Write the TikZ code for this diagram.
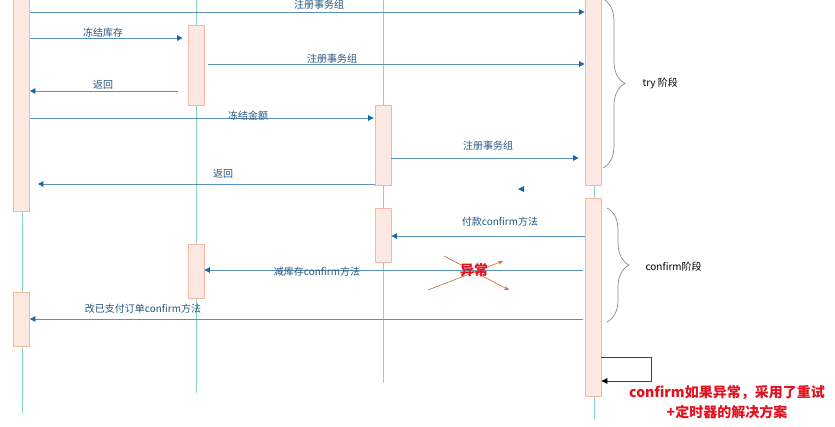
\documentclass[tikz,border=0pt]{standalone}
\usepackage{fontspec}
\setmainfont{Noto Sans CJK SC}
\usepackage{tikz}
\usetikzlibrary{arrows.meta,positioning,decorations.pathreplacing,calc}
\definecolor{lifeteal}{HTML}{86D5C9}
\definecolor{actfill}{HTML}{FDE8E2}
\definecolor{actdraw}{HTML}{F4B7A5}
\definecolor{msgline}{HTML}{5B90B9}
\definecolor{tiptone}{HTML}{1767A6}
\definecolor{msgtext}{HTML}{24557F}
\definecolor{alarm}{HTML}{E3101E}
\definecolor{crossline}{HTML}{C8692F}
\definecolor{bracegray}{HTML}{8C8C8C}

\begin{document}
\begin{tikzpicture}[x=1pt, y=-1pt, font=\fontsize{10}{12}\selectfont,
  life/.style={draw=lifeteal, line width=0.9pt},
  act/.style={draw=actdraw, fill=actfill, line width=0.8pt, minimum width=16pt,
    inner sep=0pt, anchor=north},
  msg/.style={draw=msgline, line width=0.9pt,
    -{Triangle[length=5.5pt, width=5.5pt, color=tiptone]}},
  lab/.style={text=msgtext, inner sep=1pt},
  brc/.style={draw=bracegray, line width=0.7pt, decorate,
    decoration={brace, amplitude=22pt}},
  selfloop/.style={draw=black!75, line width=0.7pt,
    -{Triangle[length=6pt, width=5.5pt, color=black]}},
  cross/.style={draw=crossline, line width=0.6pt,
    -{Stealth[length=5pt, width=4pt]}},
  note/.style={text=alarm, font=\fontsize{14}{20}\selectfont\bfseries}]
  \useasboundingbox (0,0) rectangle (835,426);
  % lifelines
  \foreach \x/\e in {22/413, 196/393, 383/383, 594/419}
    \draw[life] (\x,-2) -- (\x,\e);
  % activation boxes
  \node[act, minimum height=216pt] (p1) at (21.5,-5) {};
  \node[act, minimum height=54pt]  (p2) at (21.5,292) {};
  \node[act, minimum height=80pt]  (q1) at (196,25) {};
  \node[act, minimum height=54pt]  (q2) at (196,244) {};
  \node[act, minimum height=80pt]  (r1) at (383,105) {};
  \node[act, minimum height=54pt]  (r2) at (383,208) {};
  \node[act, minimum height=190pt] (s1) at (593,-5) {};
  \node[act, minimum height=198pt] (s2) at (593,198) {};
  % message levels
  \foreach \i/\y in {1/12, 2/38, 3/64, 4/91, 5/118, 6/158, 7/184, 8/236,
                     9/270, 10/319, 11/357, 12/381}
    \coordinate (m\i) at (0,\y);
  % try phase
  \draw[msg] (p1.east |- m1) -- (s1.west |- m1);
  \draw[msg, shorten >=5pt] (p1.east |- m2) -- (q1.west |- m2);
  \draw[msg, shorten <=4pt] (q1.east |- m3) -- (s1.west |- m3);
  \draw[msg, shorten <=10pt] (q1.west |- m4) -- (p1.east |- m4);
  \draw[msg, shorten >=1pt] (p1.east |- m5) -- (r1.west |- m5);
  \draw[msg, shorten >=6pt] (r1.east |- m6) -- (s1.west |- m6);
  \draw[msg, shorten >=8pt] (r1.west |- m7) -- (p1.east |- m7);
  \fill[tiptone] (518,189) -- (524,186) -- (524,192) -- cycle;
  % confirm phase
  \draw[msg] (s2.west |- m8) -- (r2.east |- m8);
  \draw[msg, shorten <=2pt] (s2.west |- m9) -- (q2.east |- m9);
  \draw[msg, shorten <=2pt] (s2.west |- m10) -- (p2.east |- m10);
  \draw[selfloop] (s2.east |- m11) -- ++(50,0) |- (s2.east |- m12);
  % labels
  \node[lab] (t1)  at (319,5)   {注册事务组};
  \node[lab] (t2)  at (103,33)  {冻结库存};
  \node[lab] (t3)  at (332,59)  {注册事务组};
  \node[lab] (t4)  at (103,85)  {返回};
  \node[lab] (t5)  at (248,116) {冻结金额};
  \node[lab] (t6)  at (488,146) {注册事务组};
  \node[lab] (t7)  at (223,174) {返回};
  \node[lab] (t8)  at (500,222) {付款confirm方法};
  \node[lab] (t9)  at (317,272) {减库存confirm方法};
  \node[lab] (t10) at (143,309) {改已支付订单confirm方法};
  % braces
  \draw[brc] (603,-1) -- (603,168);
  \node[anchor=west] (tryph) at (639,83) {try 阶段};
  \draw[brc] (607,208) -- (607,322);
  \node[anchor=west] (cfph) at (642,267) {confirm阶段};
  % failure mark
  \draw[cross] (444,256) -- (509,290);
  \draw[cross] (428,290) -- (503,261);
  \node[text=alarm, font=\fontsize{14}{16}\selectfont\bfseries] (err) at (474,270) {异常};
  \node[note, align=center] (fix) at (727,402)
    {confirm如果异常，采用了重试\\+定时器的解决方案};
\end{tikzpicture}
\end{document}
